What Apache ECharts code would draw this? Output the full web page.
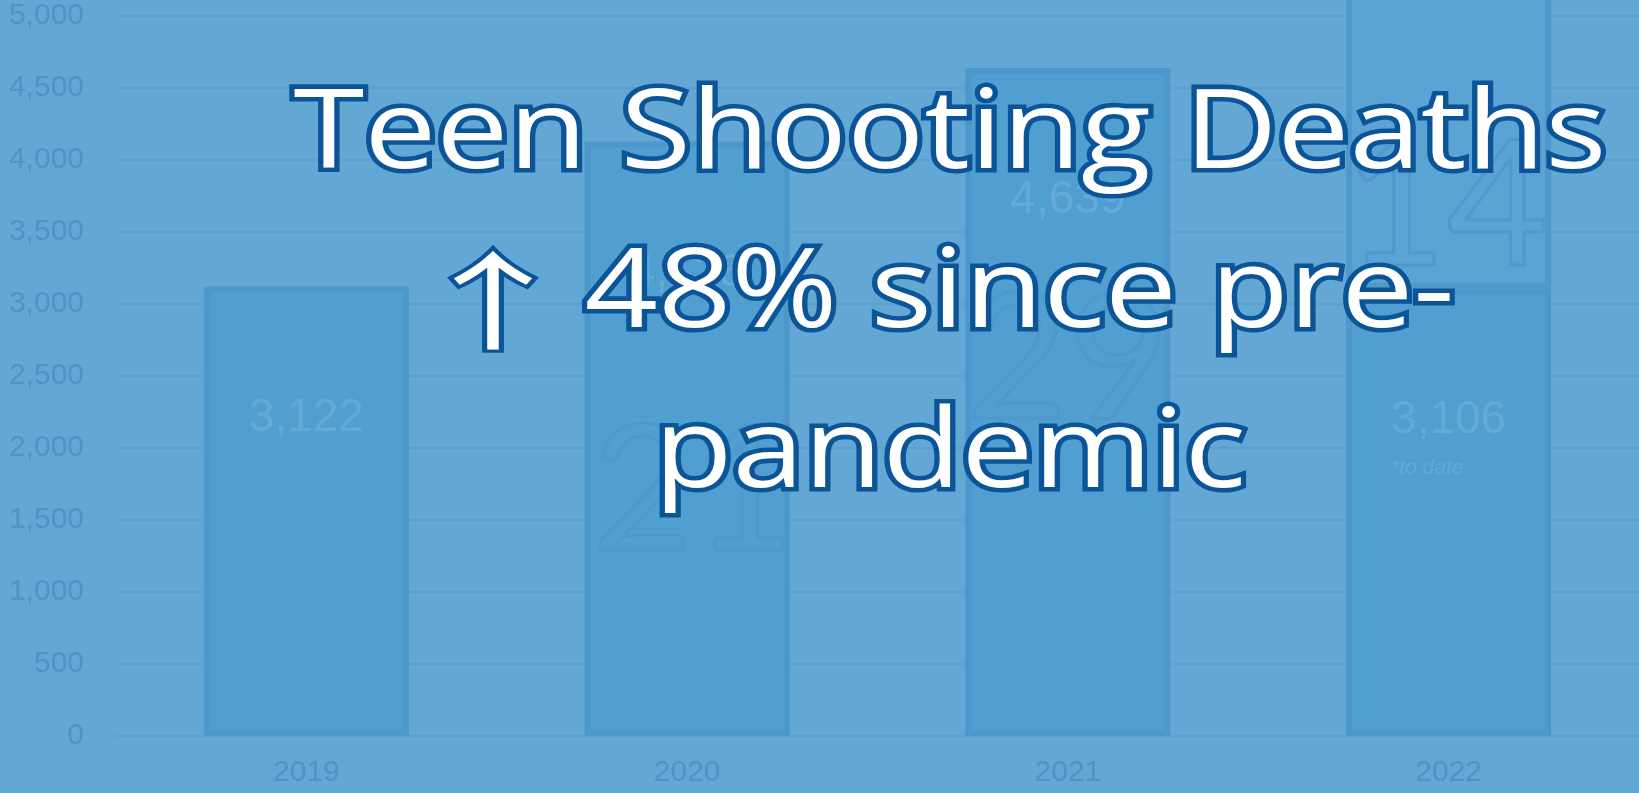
<!DOCTYPE html>
<html>
<head>
<meta charset="utf-8">
<script src="https://cdn.jsdelivr.net/npm/echarts@6/dist/echarts.min.js"></script>
<style>
html,body{margin:0;padding:0;background:#63a7d5;}
#chart{width:1639px;height:793px;}
</style>
</head>
<body>
<div id="chart"></div>
<script>
var years = ['2019', '2020', '2021', '2022'];
var deaths = [3122, 4128, 4639, 3106];
var projectedTotal2022 = 5200;
var yTicks = [0, 500, 1000, 1500, 2000, 2500, 3000, 3500, 4000, 4500, 5000];
var titleLine1 = 'Teen Shooting Deaths';
var titleArrow = '\u2191';
var titleLine2 = ' 48% since pre-';
var titleLine3 = 'pandemic';
var overlayDigits = ['', '21', '29', '14'];
var toDateNote = '*to date';

var projected = years.map(function (y, i) { return i === years.length - 1 ? projectedTotal2022 - deaths[i] : null; });

var chart = echarts.init(document.getElementById('chart'));
var bg = '#63a7d5';
var option = {
  backgroundColor: bg,
  animation: false,
  grid: { left: 116, right: -5, top: 16, bottom: 57 },
  xAxis: {
    type: 'category',
    data: years,
    axisLine: { show: true, lineStyle: { color: '#5a9fd0', width: 2 } },
    axisTick: { show: false },
    axisLabel: { color: '#4f93c7', fontSize: 30, fontFamily: 'Liberation Sans, Arial', margin: 22 }
  },
  yAxis: {
    type: 'value',
    min: yTicks[0],
    max: yTicks[yTicks.length - 1],
    interval: 500,
    axisLine: { show: false },
    axisTick: { show: false },
    splitLine: { lineStyle: { color: '#5b9fcf', width: 2 } },
    axisLabel: {
      color: '#4f93c7', fontSize: 30, fontFamily: 'Liberation Sans, Arial', margin: 32,
      formatter: function (v) { return v.toLocaleString('en-US'); }
    }
  },
  series: [
    {
      type: 'bar',
      name: 'Deaths',
      stack: 'total',
      barWidth: 205,
      data: deaths,
      itemStyle: { color: '#519ed1', borderColor: '#4c97cc', borderWidth: 6 },
      label: {
        show: true,
        position: 'insideTop',
        distance: 109,
        formatter: function (p) {
          var s = '{v|' + p.value.toLocaleString('en-US') + '}';
          if (p.dataIndex === years.length - 1) s += '\n{n|' + toDateNote + '}';
          return s;
        },
        rich: {
          v: { fontSize: 46, color: '#64aad9', fontFamily: 'Liberation Sans, Arial', lineHeight: 46 },
          n: { fontSize: 21, fontStyle: 'italic', color: '#64aad9', fontFamily: 'Liberation Sans, Arial', align: 'left', lineHeight: 48 }
        }
      },
      z: 2
    },
    {
      type: 'bar',
      name: 'Projected',
      stack: 'total',
      barWidth: 205,
      clip: false,
      data: projected,
      itemStyle: { color: '#5aa3d4', borderColor: '#4e98cc', borderWidth: 6 },
      z: 1
    }
  ]
};
chart.setOption(option);

// overlay outline digits and headline
var graphics = [];
var digitY = [0, 494, 362, 209];
var digitDx = [0, 6, 0, -2];
overlayDigits.forEach(function (d, i) {
  if (!d) return;
  var px = chart.convertToPixel({ xAxisIndex: 0 }, years[i]);
  graphics.push({
    type: 'text', z: 50,
    style: { text: d, x: px + digitDx[i], y: digitY[i], textAlign: 'center', textVerticalAlign: 'middle',
      font: 'normal 175px Lato', fill: 'rgba(0,0,0,0)', stroke: '#4e98cc', lineWidth: 3 }
  });
});
var tStyle = { fontFamily: 'Open Sans', fontSize: 120, lineHeight: 174, fill: '#ffffff', stroke: '#0a5497', lineWidth: 10 };
var t1Style = { fontFamily: 'Open Sans', fontSize: 120, lineHeight: 170.7, fill: '#ffffff', stroke: '#0a5497', lineWidth: 10 };
var aStyle = { fontFamily: 'DejaVu Sans', fontSize: 118, lineHeight: 174, fill: 'rgba(0,0,0,0)', stroke: 'rgba(0,0,0,0)', lineWidth: 0 };
graphics.push({
  type: 'text', z: 100,
  x: 950, y: 58, scaleX: 1.07, scaleY: 0.92,
  style: {
    text: '{t1|' + titleLine1 + '}\n{a|' + titleArrow + '}{t|' + titleLine2 + '}\n{t|' + titleLine3 + '}',
    x: 0, y: 0, textAlign: 'center', textVerticalAlign: 'top',
    font: 'normal 120px "Open Sans"', fill: '#ffffff', stroke: '#0a5497', lineWidth: 10, strokeFirst: true,
    rich: { t: tStyle, t1: t1Style, a: aStyle }
  }
});
graphics.push({
  type: 'text', z: 101,
  x: 493, y: 301, scaleX: 1.5, scaleY: 0.95,
  style: {
    text: titleArrow, x: 0, y: 0, textAlign: 'center', textVerticalAlign: 'middle',
    font: 'normal 112px "Noto Sans CJK SC"', fill: '#ffffff', stroke: '#0a5497', lineWidth: 7, strokeFirst: true
  }
});
chart.setOption({ graphic: graphics });
</script>
</body>
</html>
